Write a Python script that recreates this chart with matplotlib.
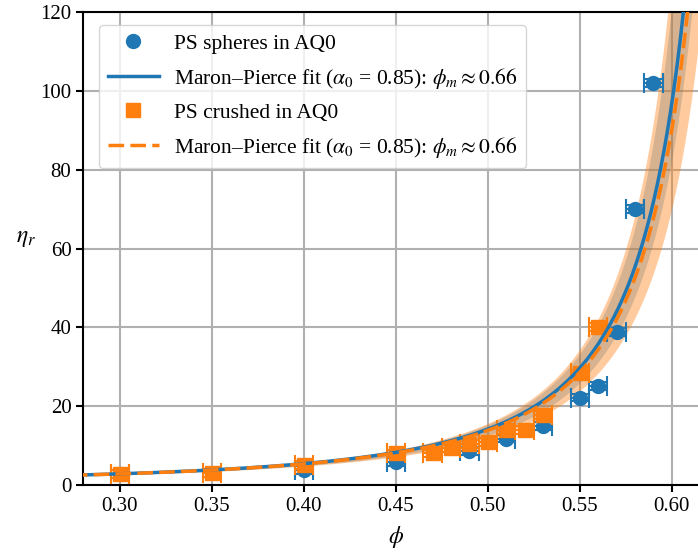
import numpy as np
import matplotlib
matplotlib.use('Agg')
import matplotlib.pyplot as plt
from matplotlib.lines import Line2D

plt.rcParams['font.family'] = ['Liberation Serif', 'DejaVu Serif']
plt.rcParams['mathtext.fontset'] = 'stix'
plt.rcParams['font.size'] = 15

# measured relative viscosity vs. volume fraction
phi_spheres = [0.30, 0.40, 0.45, 0.49, 0.51, 0.53, 0.55, 0.56, 0.57, 0.58, 0.59]
eta_spheres = [2.7, 3.8, 5.9, 8.6, 11.8, 15.0, 22.2, 25.1, 38.9, 70.0, 102.1]

phi_crushed = [0.30, 0.35, 0.40, 0.45, 0.47, 0.48, 0.49, 0.50, 0.51, 0.52, 0.53, 0.55, 0.56]
eta_crushed = [2.7, 3.0, 5.1, 8.0, 8.0, 9.3, 10.4, 11.0, 14.0, 14.0, 17.8, 28.3, 40.2]

phi_err = 0.005
eta_err = 1.0

# fit parameters (prefactor, max packing fraction and its range)
alpha0 = 0.85
alpha_lo = 0.76
phim_spheres, phim_spheres_lo, phim_spheres_hi = 0.662, 0.655, 0.664
phim_crushed, phim_crushed_lo, phim_crushed_hi = 0.6645, 0.653, 0.670

fit_label = r'Maron–Pierce fit ($\alpha_0$ = 0.85): $\phi_m \approx 0.66$'

blue = '#1f77b4'
orange = '#ff7f0e'


def maron_pierce(phi, a, phim):
    return a * (1 - phi / phim) ** -2


def band(phi, phim_lo, phim_hi):
    curves = [maron_pierce(phi, a, pm) for a in (alpha_lo, alpha0) for pm in (phim_lo, phim_hi)]
    return np.min(curves, axis=0), np.max(curves, axis=0)


fig = plt.figure(figsize=(6.98, 5.55), dpi=100)
ax = fig.add_axes([0.1192, 0.1261, 0.896, 0.852])

phi = np.linspace(0.25, 0.6095, 600)
phi_c = np.linspace(0.25, 0.6125, 600)
phi_band = np.linspace(0.25, 0.625, 800)

ax.errorbar(phi_spheres, eta_spheres, xerr=phi_err, yerr=eta_err, fmt='o', ms=10,
            color=blue, capsize=7, elinewidth=1.5, capthick=1.5, zorder=3)
ax.plot(phi, maron_pierce(phi, alpha0, phim_spheres), color=blue, lw=2.5, zorder=4)
lo, hi = band(phi_band, phim_spheres_lo, phim_spheres_hi)
ax.fill_between(phi_band, lo, hi, color=blue, alpha=0.3, lw=0, zorder=2)

ax.errorbar(phi_crushed, eta_crushed, xerr=phi_err, yerr=eta_err, fmt='s', ms=10,
            color=orange, capsize=7, elinewidth=1.5, capthick=1.5, zorder=3)
ax.plot(phi_c, maron_pierce(phi_c, alpha0, phim_crushed), color=orange, lw=2.5,
        dashes=(4.5, 1.8), zorder=4)
lo, hi = band(phi_band, phim_crushed_lo, phim_crushed_hi)
ax.fill_between(phi_band, lo, hi, color=orange, alpha=0.4, lw=0, zorder=2)

ax.set_xlim(0.28, 0.62)
ax.set_ylim(0, 120)
ax.set_xticks([0.30, 0.35, 0.40, 0.45, 0.50, 0.55, 0.60])
ax.set_yticks([0, 20, 40, 60, 80, 100, 120])
ax.xaxis.set_major_formatter(matplotlib.ticker.FormatStrFormatter('%.2f'))
ax.grid(True, color='#b0b0b0', lw=1.5)
ax.set_axisbelow(True)
for s in ax.spines.values():
    s.set_linewidth(1.5)
ax.tick_params(width=1.5, length=5)

ax.set_xlabel(r'$\phi$', fontsize=17, labelpad=6)
ax.set_ylabel(r'$\eta_r$', fontsize=17, rotation=0, labelpad=10)

handles = [
    Line2D([], [], ls='none', marker='o', ms=10, color=blue),
    Line2D([], [], color=blue, lw=2.5),
    Line2D([], [], ls='none', marker='s', ms=10, color=orange),
    Line2D([], [], color=orange, lw=2.5, dashes=(4.5, 1.8)),
]
labels = ['PS spheres in AQ0', fit_label, 'PS crushed in AQ0', fit_label]
ax.legend(handles, labels, loc='upper left', bbox_to_anchor=(0.008, 0.995),
          handlelength=2.4, handletextpad=0.7, labelspacing=0.55, borderpad=0.4,
          framealpha=0.8, fontsize=15.5)

fig.savefig('out.png', dpi=100)
